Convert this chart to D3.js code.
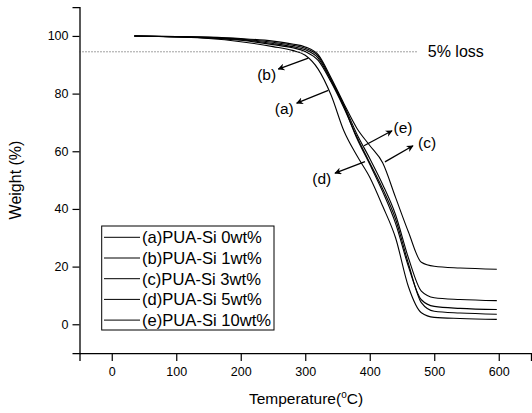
<!DOCTYPE html>
<meta charset="utf-8">
<html>
<head>
    <title>TGA curves</title>
    <script src="https://d3js.org/d3.v7.min.js"></script>
</head>
<style>
    body{ margin: 0; background: white; }
    svg{ width: 532px; height: 413px; display: block; }
    text{ font-family: "Liberation Sans", Arial, sans-serif; fill: black; }
</style>
<body>
<svg></svg>
<script>
    // sample data
    let temps = [35, 100, 150, 200, 250, 280, 300, 320, 340, 360, 380, 400, 420, 440, 460, 480, 500, 540, 597]
    let wA = [100, 99.6, 99.1, 98.0, 96.3, 95.0, 93.3, 88.5, 79.5, 67, 58.5, 51, 41, 30, 13, 4, 2.4, 2.0, 1.7]
    let wB = [100, 99.7, 99.3, 98.5, 97.0, 95.9, 94.6, 91.5, 84, 75, 65, 56, 47, 36.5, 21, 7.5, 4.5, 3.9, 3.5]
    let wC = [100, 99.8, 99.6, 99.1, 98.2, 97.2, 96.2, 93.5, 85.5, 76.5, 68, 62, 56, 44, 32, 21.5, 20.1, 19.5, 19.1]
    let wD = [100, 99.7, 99.4, 98.7, 97.4, 96.3, 95.2, 92.3, 84.5, 75.5, 64.5, 55.5, 46, 35, 20, 8.5, 6.2, 5.5, 5.1]
    let wE = [100, 99.8, 99.5, 98.9, 97.8, 96.8, 95.7, 93, 85, 76, 66, 57.5, 48.5, 38, 23, 11.5, 9.2, 8.6, 8.2]
    let seriesNames = ["(a)PUA-Si 0wt%", "(b)PUA-Si 1wt%", "(c)PUA-Si 3wt%", "(d)PUA-Si 5wt%", "(e)PUA-Si 10wt%"]
    let seriesValues = [wA, wB, wC, wD, wE]
    let xTicks = [0, 100, 200, 300, 400, 500, 600]
    let yTicks = [0, 20, 40, 60, 80, 100]
    let lossLevel = 94.5
    // arrows: label, start (T,W), head (T,W), label centre (T,W)
    let arrows = [
        {label: "(b)", t0: 304.7, w0: 92.3, t1: 258.2, w1: 88.5, tl: 240.2, wl: 86.5},
        {label: "(a)", t0: 335.7, w0: 81.1, t1: 286.7, w1: 76.7, tl: 267.5, wl: 74.9},
        {label: "(e)", t0: 391.1, w0: 61.9, t1: 434.5, w1: 67.1, tl: 451.6, wl: 68.1},
        {label: "(c)", t0: 423.6, w0: 56.3, t1: 467.0, w1: 61.9, tl: 488.8, wl: 62.9},
        {label: "(d)", t0: 392.6, w0: 56.4, t1: 346.1, w1: 52.4, tl: 325.5, wl: 50.7}
    ]

    let svg = d3.select("svg")
    let x = d3.scaleLinear().domain([-50, 650]).range([79.5, 531])
    let y = d3.scaleLinear().domain([-10, 110]).range([353.1, 7.1])

    // arrow marker
    svg.append("defs").append("marker")
        .attr("id", "head")
        .attr("viewBox", "0 0 10 10")
        .attr("refX", 9).attr("refY", 5)
        .attr("markerWidth", 7).attr("markerHeight", 7)
        .attr("markerUnits", "userSpaceOnUse")
        .attr("orient", "auto")
        .append("path")
        .attr("d", "M0,0 L10,5 L0,10 L3,5 Z")
        .attr("fill", "black")

    // x axis
    let xAxis = svg.append("g").attr("transform", "translate(0," + y(-10) + ")")
    xAxis.call(d3.axisBottom(x).tickValues(d3.range(-50, 651, 50)).tickSize(4).tickFormat(""))
    xAxis.call(d3.axisBottom(x).tickValues(xTicks).tickSize(8).tickPadding(6))
    xAxis.selectAll("path.domain").attr("stroke-width", 1.3)
    xAxis.selectAll("text").style("font-size", "12.5px").style("font-family", "Liberation Sans, Arial, sans-serif")
    xAxis.selectAll("line").attr("stroke-width", 1.2)

    // y axis
    let yAxis = svg.append("g").attr("transform", "translate(" + x(-50) + ",0)")
    yAxis.call(d3.axisLeft(y).tickValues(d3.range(-10, 111, 10)).tickSize(3.5).tickFormat(""))
    yAxis.call(d3.axisLeft(y).tickValues(yTicks).tickSize(7).tickPadding(4))
    yAxis.selectAll("path.domain").attr("stroke-width", 1.3)
    yAxis.selectAll("text").style("font-size", "12.5px").style("font-family", "Liberation Sans, Arial, sans-serif")
    yAxis.selectAll("line").attr("stroke-width", 1.2)

    // axis titles
    let xt = svg.append("text")
        .attr("x", 306).attr("y", 404)
        .attr("text-anchor", "middle")
        .style("font-size", "15.5px")
        .text("Temperature(")
    xt.append("tspan").attr("dy", -6).style("font-size", "10px").text("o")
    xt.append("tspan").attr("dy", 6).text("C)")

    svg.append("text")
        .attr("transform", "translate(21,180) rotate(-90)")
        .attr("text-anchor", "middle")
        .style("font-size", "16px")
        .text("Weight (%)")

    // 5% loss line
    svg.append("line")
        .attr("x1", x(-50)).attr("x2", x(475))
        .attr("y1", y(lossLevel)).attr("y2", y(lossLevel))
        .attr("stroke", "#444").attr("stroke-width", 1)
        .attr("stroke-dasharray", "1,2")
    svg.append("text")
        .attr("x", x(490)).attr("y", y(lossLevel) + 5.5)
        .style("font-size", "16px")
        .text("5% loss")

    // curves
    let line = d3.line()
        .x((d, i) => x(temps[i]))
        .y(d => y(d))
        .curve(d3.curveMonotoneX)
    svg.append("g").selectAll("path")
        .data(seriesValues)
        .enter()
        .append("path")
        .attr("d", d => line(d))
        .attr("fill", "none")
        .attr("stroke", "black")
        .attr("stroke-width", 1.1)

    // arrows + labels
    let ann = svg.append("g").selectAll("g").data(arrows).enter().append("g")
    ann.append("line")
        .attr("x1", d => x(d.t0)).attr("y1", d => y(d.w0))
        .attr("x2", d => x(d.t1)).attr("y2", d => y(d.w1))
        .attr("stroke", "black").attr("stroke-width", 1.3)
        .attr("marker-end", "url(#head)")
    ann.append("text")
        .attr("x", d => x(d.tl)).attr("y", d => y(d.wl) + 5.5)
        .attr("text-anchor", "middle")
        .style("font-size", "15.5px")
        .text(d => d.label)

    // legend
    let legend = svg.append("g")
    legend.append("rect")
        .attr("x", 101.7).attr("y", 226).attr("width", 172.3).attr("height", 104)
        .attr("fill", "white").attr("stroke", "black").attr("stroke-width", 1)
    let rows = legend.selectAll("g.row").data(seriesNames).enter().append("g")
        .attr("class", "row")
        .attr("transform", (d, i) => "translate(0," + (237.3 + i * 20.7) + ")")
    rows.append("line")
        .attr("x1", 104).attr("x2", 140).attr("y1", 0).attr("y2", 0)
        .attr("stroke", "black").attr("stroke-width", 1)
    rows.append("text")
        .attr("x", 142).attr("y", 5.8)
        .style("font-size", "16.6px")
        .text(d => d)
</script>
</body>
</html>
